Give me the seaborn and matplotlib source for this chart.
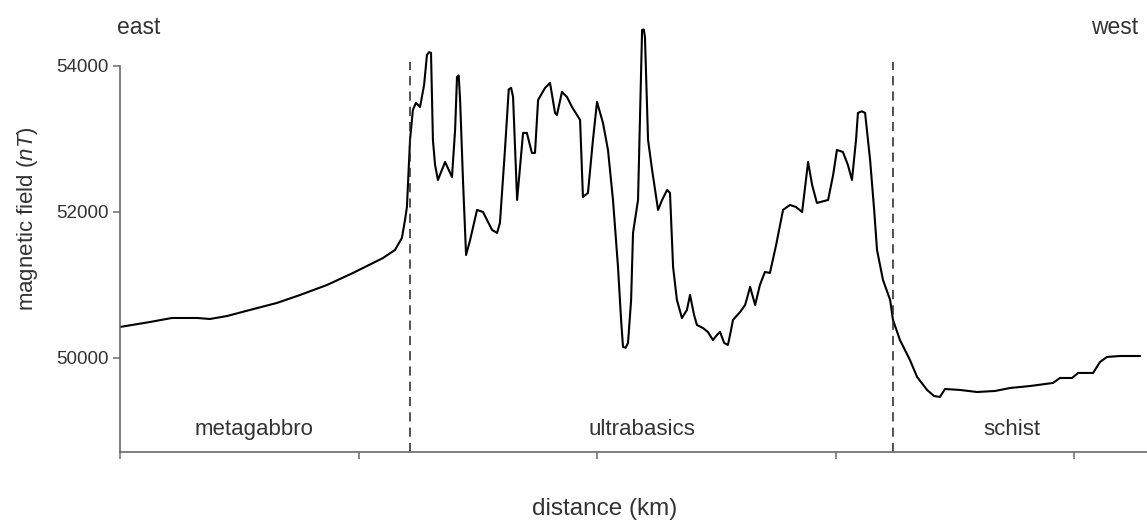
import matplotlib
matplotlib.use("Agg")
import matplotlib.pyplot as plt
import seaborn as sns

# profile: distance (km, ticks every 10) and field (nT)
distance = [0.00, 1.26, 2.18, 3.23, 3.77, 4.49, 5.45, 6.58, 7.55, 8.68, 9.77,
            11.03, 11.53, 11.82, 11.95, 12.03, 12.16, 12.28, 12.41, 12.58, 12.75,
            12.87, 12.96, 13.04, 13.12, 13.21, 13.33, 13.63, 13.92, 14.05, 14.13, 14.20, 14.26,
            14.38, 14.51, 14.68, 14.97, 15.22, 15.39, 15.60, 15.81, 15.93, 16.14,
            16.30, 16.40, 16.48, 16.65, 16.90, 17.06, 17.27, 17.40, 17.53, 17.82, 18.03,
            18.24, 18.32, 18.53, 18.74, 18.95, 19.29, 19.41, 19.62, 19.83, 20.00,
            20.25, 20.46, 20.67, 20.88, 21.01, 21.09, 21.20, 21.30, 21.43, 21.51, 21.72,
            21.80, 21.89, 21.96, 22.01, 22.14, 22.31, 22.56, 22.73, 22.94, 23.06, 23.19,
            23.35, 23.56, 23.77, 23.90, 24.07, 24.19, 24.44, 24.65, 24.86, 25.03,
            25.16, 25.33, 25.49, 25.62, 25.70, 26.00, 26.21, 26.42, 26.63, 26.83,
            27.04, 27.25, 27.51, 27.80, 28.09, 28.34, 28.60, 28.85, 29.02, 29.22,
            29.69, 29.90, 30.06, 30.31, 30.52, 30.69, 30.86, 30.94, 31.10, 31.24, 31.45,
            31.62, 31.74, 31.99, 32.29, 32.41, 32.70, 33.12, 33.42, 33.84, 34.13,
            34.38, 34.59, 35.22, 35.93, 36.69, 37.32, 38.16, 39.12, 39.41, 39.92,
            40.17, 40.80, 41.09, 41.38, 41.93, 42.77]
field = [50425, 50493, 50548, 50548, 50534, 50575, 50658, 50754, 50863, 51000, 51165,
         51370, 51480, 51644, 51891, 52069, 52987, 53398, 53494, 53439, 53740,
         54151, 54190, 54179, 52987, 52644, 52439, 52685, 52480, 53124, 53850, 53870, 53535,
         52439, 51411, 51617, 52028, 52000, 51891, 51754, 51713, 51850, 52850,
         53680, 53700, 53576, 52165, 53083, 53083, 52809, 52809, 53535, 53699, 53768,
         53357, 53329, 53644, 53576, 53439, 53261, 52206, 52261, 52987, 53507,
         53220, 52850, 52165, 51247, 50521, 50151, 50140, 50206, 50795, 51713, 52165,
         53261, 54494, 54500, 54398, 52987, 52576, 52028, 52165, 52302, 52261, 51247,
         50795, 50548, 50658, 50863, 50589, 50452, 50411, 50356, 50247, 50315,
         50356, 50206, 50178, 50384, 50521, 50630, 50726, 50973, 50726, 51000,
         51178, 51165, 51548, 52028, 52096, 52069, 52000, 52685, 52370, 52124,
         52165, 52507, 52850, 52822, 52644, 52439, 52987, 53357, 53380, 53357, 52713,
         52028, 51480, 51069, 50795, 50521, 50247, 49973, 49740, 49562, 49479,
         49466, 49575, 49562, 49534, 49548, 49589, 49616, 49658, 49726, 49726,
         49795, 49795, 49945, 50014, 50027, 50027]

boundaries = [12.16, 32.41]
units = ["metagabbro", "ultrabasics", "schist"]
unit_x = [5.6, 21.9, 37.4]
x_ticks = [0, 10, 20, 30, 40]
y_ticks = [50000, 52000, 54000]

sns.set_theme(style="white")
plt.rcParams["font.family"] = ["Liberation Sans", "DejaVu Sans"]
plt.rcParams["mathtext.fontset"] = "custom"
plt.rcParams["mathtext.it"] = "Liberation Sans:italic"
plt.rcParams["mathtext.rm"] = "Liberation Sans"

grey = "#6a6a6a"
txt = "#333333"

fig = plt.figure(figsize=(11.47, 5.25), dpi=100)
ax = fig.add_axes([120 / 1147, 73 / 525, 1027 / 1147, 432 / 525])

sns.lineplot(x=distance, y=field, ax=ax, color="black", linewidth=1.5,
             estimator=None, sort=False)
ax.lines[0].set_solid_joinstyle("round")

for b in boundaries:
    ax.plot([b, b], [48712, 54060], color="#222222", linewidth=1.1,
            linestyle=(0, (6, 4)))

for name, ux in zip(units, unit_x):
    ax.text(ux, 49020, name, ha="center", va="center", fontsize=16, color=txt)

ax.set_xlim(0, 43.06)
ax.set_ylim(48712, 54630)
ax.set_xticks(x_ticks)
ax.set_xticklabels([])
ax.set_yticks(y_ticks)
ax.set_yticklabels([str(v) for v in y_ticks], fontsize=13.5, color=txt)

for side in ["top", "right"]:
    ax.spines[side].set_visible(False)
for side in ["left", "bottom"]:
    ax.spines[side].set_color(grey)
    ax.spines[side].set_linewidth(1.2)
ax.spines["left"].set_bounds(48712, 54000)
ax.tick_params(axis="both", direction="out", length=5, width=1.1, color=grey,
               left=True, bottom=True, pad=3)

ax.set_xlabel("distance (km)", fontsize=17.5, color=txt)
ax.set_ylabel("magnetic field ($\\it{nT}$)", fontsize=16, color=txt)
ax.xaxis.set_label_coords(0.472, -0.106)
ax.yaxis.set_label_coords(-0.078, 0.54)

fig.text(117 / 1147, 1 - 27 / 525, "east", ha="left", va="center", fontsize=16.5, color=txt)
fig.text(1138 / 1147, 1 - 27 / 525, "west", ha="right", va="center", fontsize=16.5, color=txt)

fig.savefig("out.png", dpi=100)
